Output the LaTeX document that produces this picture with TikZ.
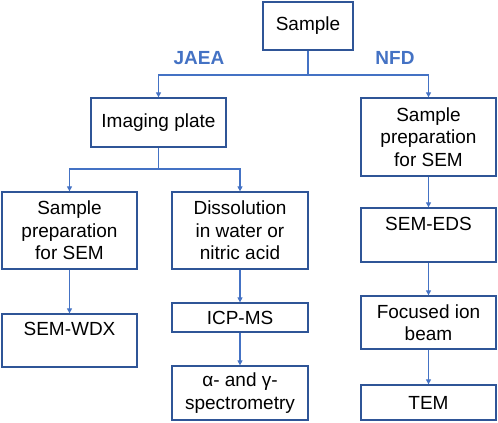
\documentclass[tikz,border=0pt]{standalone}
\usepackage{fontspec}
\setmainfont{Liberation Sans}
\usetikzlibrary{arrows.meta}

\definecolor{boxblue}{RGB}{47,85,151}
\definecolor{lineblue}{RGB}{68,114,196}

\begin{document}
\begin{tikzpicture}[x=1pt, y=-1pt,
        font=\fontsize{19}{22.5}\selectfont,
        >={Triangle[length=5pt, width=5pt]},
        box/.style={draw=boxblue, line width=1.3pt, rectangle, align=center, inner sep=0pt},
        link/.style={draw=lineblue, line width=1.1pt},
        team/.style={text=lineblue, font=\fontsize{19}{22.5}\selectfont\bfseries}]

        \useasboundingbox (0,0) rectangle (498,423);

        % Top
        \node[box, minimum width=90, minimum height=48] (sample) at (308,26) {Sample};

        % JAEA branch
        \node[box, minimum width=135, minimum height=49] (imgplate) at (158.5,122.5) {Imaging plate};
        \node[box, minimum width=135, minimum height=77] (prepL) at (69.5,230.5) {Sample\\preparation\\for SEM};
        \node[box, minimum width=135, minimum height=53] (wdx) at (69.5,340.5) {SEM-WDX\\\mbox{}};
        \node[box, minimum width=136, minimum height=77] (dissol) at (240,230.5) {Dissolution\\in water or\\nitric acid};
        \node[box, minimum width=136, minimum height=29] (icp) at (240,317.5) {ICP-MS};
        \node[box, minimum width=136, minimum height=54] (spectro) at (240,393) {α- and γ-\\spectrometry};

        % NFD branch
        \node[box, minimum width=135, minimum height=78] (prepR) at (428.5,137) {Sample\\preparation\\for SEM};
        \node[box, minimum width=135, minimum height=54] (eds) at (428.5,235) {SEM-EDS\\\mbox{}};
        \node[box, minimum width=135, minimum height=53] (fib) at (428.5,322.5) {Focused ion\\beam};
        \node[box, minimum width=135, minimum height=35] (tem) at (428.5,402.5) {TEM};

        % Labels
        \node[team] (jaea) at (199,58) {JAEA};
        \node[team] (nfd) at (395,58) {NFD};

        % Connectors
        \coordinate (split1) at (308,75);
        \coordinate (split2) at (158.5,169);
        \draw[link] (sample.south) -- (split1);
        \draw[link, ->] (split1) -| (imgplate.north);
        \draw[link, ->] (split1) -| (prepR.north);
        \draw[link] (imgplate.south) -- (split2);
        \draw[link, ->] (split2) -| (prepL.north);
        \draw[link, ->] (split2) -| (dissol.north);
        \draw[link, ->] (prepL) -- (wdx);
        \draw[link, ->] (dissol) -- (icp);
        \draw[link, ->] (icp) -- (spectro);
        \draw[link, ->] (prepR) -- (eds);
        \draw[link, ->] (eds) -- (fib);
        \draw[link, ->] (fib) -- (tem);

    \end{tikzpicture}
\end{document}
